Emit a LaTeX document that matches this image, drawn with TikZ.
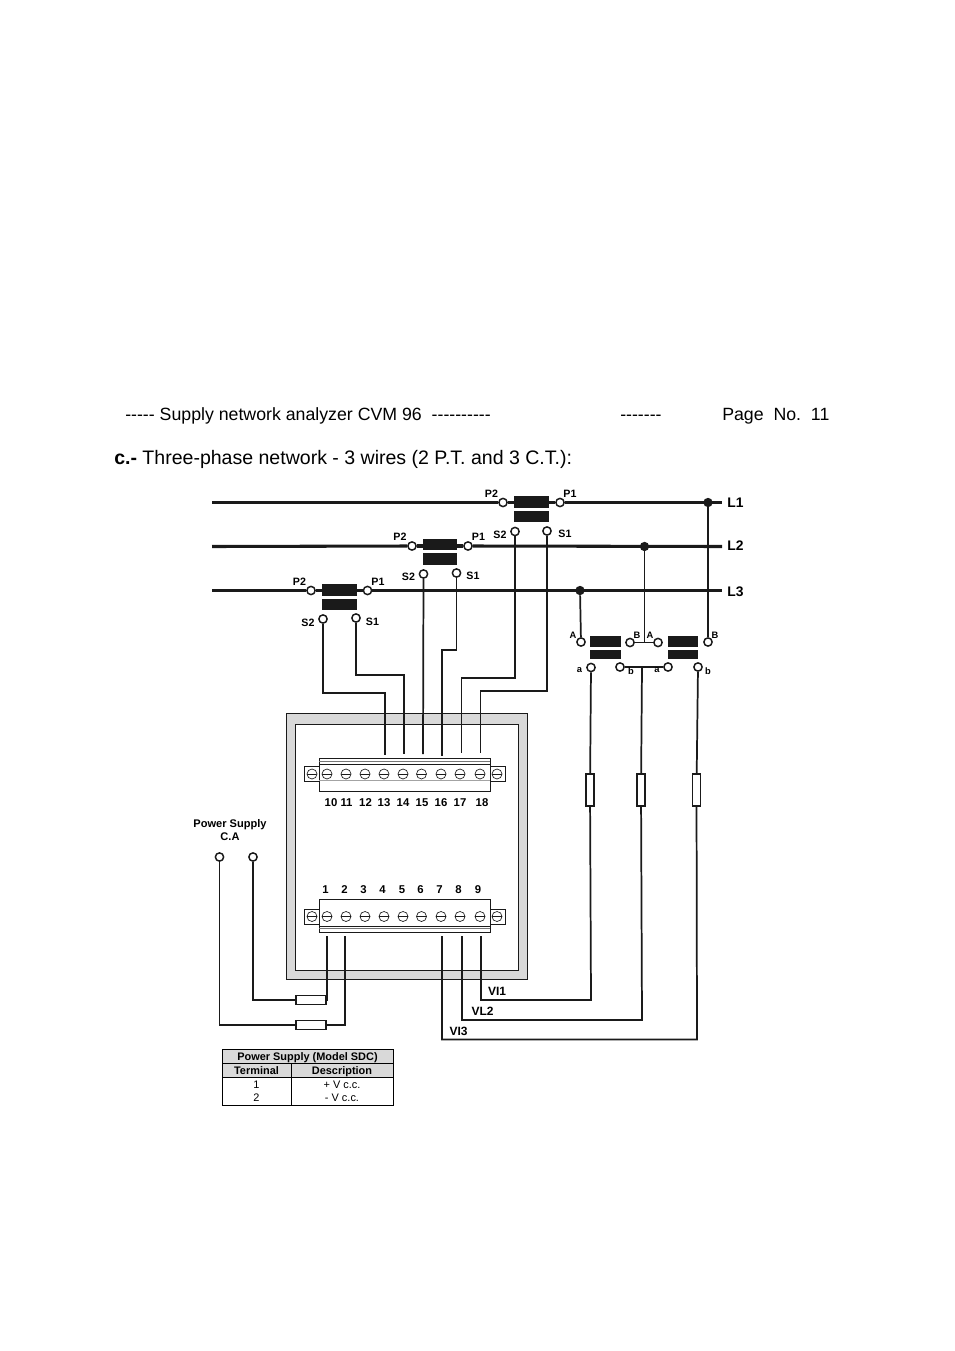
\documentclass[tikz,border=0pt]{standalone}
\usepackage{fontspec}
\setmainfont{Liberation Sans}
\definecolor{ink}{HTML}{1A1A1A}
\definecolor{panel}{HTML}{D9D9D9}
\tikzset{
  bus/.style={draw=ink,line width=2.3pt},
  wire/.style={draw=ink,line width=1.3pt},
  term/.style={circle,draw=ink,fill=white,line width=1.1pt,inner sep=0pt,minimum size=6.2pt},
  dotj/.style={circle,fill=ink,inner sep=0pt,minimum size=7pt},
  fusebox/.style={draw=ink,fill=white,line width=1pt,inner sep=0pt},
  screw/.style={circle,draw=ink,fill=white,line width=0.5pt,inner sep=0pt,minimum size=7.5pt,path picture={\draw[ink,line width=0.5pt](path picture bounding box.west)--(path picture bounding box.east);}},
  lab/.style={inner sep=0pt,font=\fontsize{8}{9}\selectfont\bfseries},
  tiny/.style={inner sep=0pt,font=\fontsize{7}{8}\selectfont\bfseries},
  num/.style={inner sep=0pt,font=\fontsize{8.5}{9}\selectfont\bfseries},
  vl/.style={inner sep=0pt,font=\fontsize{9}{10}\selectfont\bfseries},
  line/.style={inner sep=0pt,font=\fontsize{10.4}{11}\selectfont\bfseries},
  head/.style={inner sep=0pt,anchor=base west,font=\fontsize{13.3}{16}\selectfont},
  title/.style={inner sep=0pt,anchor=base west,font=\fontsize{14.65}{16}\selectfont},
  tabh/.style={inner sep=0pt,anchor=base,font=\fontsize{8.2}{9}\selectfont\bfseries},
  tabc/.style={inner sep=0pt,anchor=base,font=\fontsize{8.2}{9}\selectfont},
  strip/.style={draw=ink,line width=0.6pt,fill=white},
}
\begin{document}
\begin{tikzpicture}[x=0.75pt,y=-0.75pt]
\useasboundingbox (0,0) rectangle (954,1351);
% headings
\node[head] (h1) at (125,420) {-{}-{}-{}-{}- Supply network analyzer CVM 96\ \ -{}-{}-{}-{}-{}-{}-{}-{}-{}-};
\node[head] (h2) at (620,420) {-{}-{}-{}-{}-{}-{}-};
\node[head] (h3) at (722,420) {Page\ \ No.\ \ 11};
\node[title] (h4) at (114,464) {\textbf{c.-} Three-phase network - 3 wires (2 P.T. and 3 C.T.):};
% instrument panel
\fill[panel,draw=ink,line width=0.65pt] (286,713) rectangle (527,979);
\fill[white,draw=ink,line width=0.65pt] (295,724) rectangle (518,970);
% terminal strips
\draw[strip] (304,766.5) rectangle (319,781.5);
\draw[strip] (490,766.5) rectangle (505,781.5);
\draw[strip] (319,758) rectangle (490,791);
\draw[ink!60,line width=0.5pt] (319,761.5) -- (490,761.5);
\draw[ink,line width=0.6pt] (319,764) -- (490,764);
\draw[ink!40,line width=0.5pt] (319,780) -- (490,780);
\draw[strip] (304,909) rectangle (319,924);
\draw[strip] (490,909) rectangle (505,924);
\draw[strip] (319,899) rectangle (490,932);
\draw[ink!60,line width=0.5pt] (319,928.5) -- (490,928.5);
\draw[ink,line width=0.6pt] (319,926) -- (490,926);
\foreach \n/\x in {10/327,11/346,12/365,13/384,14/403,15/421.5,16/441,17/460,18/480,e1/312,e2/497}
  \node[screw] (s\n) at (\x,774) {};
\foreach \n/\x in {1/327,2/346,3/365,4/384,5/403,6/421.5,7/441,8/460,9/480,e3/312,e4/497}
  \node[screw] (s\n) at (\x,916.5) {};
\foreach \t/\x in {10/331,11/346.5,12/365.5,13/384,14/403,15/422,16/441,17/460,18/482}
  \node[num] (n\t) at (\x,802.5) {\t};
\foreach \t/\x in {1/325.5,2/344.5,3/363.5,4/382.5,5/402,6/420.5,7/439.5,8/458.5,9/478}
  \node[num] (n\t) at (\x,890) {\t};
% wire ends at the strips
\coordinate (w13) at (385,755);
\coordinate (w14) at (404,754);
\coordinate (w15) at (423,754);
\coordinate (w16) at (442,755.5);
\coordinate (w17) at (461.5,753);
\coordinate (w18) at (480.5,753);
\coordinate (w1) at (327,936);
\coordinate (w2) at (345,936);
\coordinate (w7) at (442,936);
\coordinate (w8) at (462,936);
\coordinate (w9) at (481,936);
% line ends
\coordinate (b1) at (212,502.5);
\coordinate (b2) at (212,546.5);
\coordinate (b3) at (212,590.5);
\coordinate (e1) at (722,502.5);
\coordinate (e2) at (722,546.5);
\coordinate (e3) at (722,590.5);
% transformers on the lines
\node[term] (p2a) at (503,502.5) {};
\node[term] (p1a) at (560,502.5) {};
\node[term] (p2b) at (412,546) {};
\node[term] (p1b) at (468,546) {};
\node[term] (p2c) at (311,590.5) {};
\node[term] (p1c) at (367.5,590.5) {};
\node[dotj] (j1) at (708,502.5) {};
\node[dotj] (j2) at (644.5,546.5) {};
\node[dotj] (j3) at (580,590.5) {};
\draw[bus] (b1) -- (p2a);
\draw[bus] (p2a) -- (p1a);
\draw[bus] (p1a) -- (e1);
\draw[bus] (b2) -- (p2b);
\draw[bus] (p2b) -- (p1b);
\draw[bus] (p1b) -- (e2);
\draw[bus] (b3) -- (p2c);
\draw[bus] (p2c) -- (p1c);
\draw[bus] (p1c) -- (e3);
\fill[ink] (514,496) rectangle (549,508);
\fill[ink] (514,511) rectangle (549,522);
\fill[ink] (423,539) rectangle (457,550);
\fill[ink] (423,553) rectangle (457,565);
\fill[ink] (322,584) rectangle (357,596);
\fill[ink] (322,599) rectangle (357,610);
\node[term] (s2a) at (515,531.5) {};
\node[term] (s1a) at (547,531) {};
\node[term] (s2b) at (423.5,574) {};
\node[term] (s1b) at (456.5,573) {};
\node[term] (s2c) at (323,619) {};
\node[term] (s1c) at (356,618) {};
% secondary wiring
\draw[wire] (s2c) |- (385,693) -- (w13);
\draw[wire] (s1c) |- (404,675) -- (w14);
\draw[wire] (s2b) -- (w15);
\draw[wire] (s1b) |- (442,650) -- (w16);
\draw[wire] (s2a) |- (461.5,678) -- (w17);
\draw[wire] (s1a) |- (480.5,691) -- (w18);
% right transformers
\fill[ink] (590,636) rectangle (621,647);
\fill[ink] (590,650) rectangle (621,659);
\fill[ink] (668,636) rectangle (698,647);
\fill[ink] (668,650) rectangle (698,659);
\node[term] (ca) at (581,642) {};
\node[term] (cb) at (630,642.5) {};
\node[term] (da) at (658,642.5) {};
\node[term] (db) at (708,642) {};
\node[term] (xa) at (591,667.5) {};
\node[term] (xb) at (620,667) {};
\node[term] (ya) at (668,667) {};
\node[term] (yb) at (698,667) {};
\coordinate (m1) at (644.5,642.5);
\coordinate (m2) at (642,667);
\draw[wire] (j3) -- (ca);
\draw[wire] (j2) -- (m1);
\draw[wire] (j1) -- (db);
\draw[wire] (cb) -- (da);
\draw[wire] (xb) -- (ya);
% fuses on the current side
\node[fusebox,minimum width=6pt,minimum height=24pt] (f1) at (590,790) {};
\node[fusebox,minimum width=6pt,minimum height=24pt] (f2) at (641,790) {};
\node[fusebox,minimum width=6pt,minimum height=24pt] (f3) at (696.5,790) {};
\draw[wire] (xa) -- (f1);
\draw[wire] (m2) -- (f2);
\draw[wire] (yb) -- (f3);
\coordinate (r1) at (591,1000);
\coordinate (r2) at (642,1020);
\coordinate (r3) at (697,1039.5);
\draw[wire] (f1) -- (r1) -- (481,1000) -- (w9);
\draw[wire] (f2) -- (r2) -- (462,1020) -- (w8);
\draw[wire] (f3) -- (r3) -- (442,1039.5) -- (w7);
% power supply
\node[lab,font=\fontsize{8.3}{9.8}\selectfont\bfseries,align=center] (ps) at (230,830) {Power Supply\\C.A};
\node[term] (pa) at (219.5,857) {};
\node[term] (pb) at (253,857) {};
\node[fusebox,minimum width=22.5pt,minimum height=6.3pt] (f4) at (311,1000) {};
\node[fusebox,minimum width=22.5pt,minimum height=6.3pt] (f5) at (311,1025) {};
\draw[wire] (pb) |- (f4);
\draw[wire] (pa) |- (f5);
\draw[wire] (f4) -| (w1);
\draw[wire] (f5) -| (w2);
% labels
\node[lab] at (491.5,494) {P2};
\node[lab] at (570,494) {P1};
\node[lab] at (500,535) {S2};
\node[lab] at (565,534) {S1};
\node[lab] at (400,537) {P2};
\node[lab] at (478.5,537) {P1};
\node[lab] at (408.5,577) {S2};
\node[lab] at (473,576) {S1};
\node[lab] at (299.5,582) {P2};
\node[lab] at (378,582) {P1};
\node[lab] at (308,622.5) {S2};
\node[lab] at (372.5,622) {S1};
\node[tiny] at (573,635) {A};
\node[tiny] at (637,635) {B};
\node[tiny] at (650,635.5) {A};
\node[tiny] at (715,635) {B};
\node[tiny] at (579.5,670) {a};
\node[tiny] at (631,671) {b};
\node[tiny] at (657,670) {a};
\node[tiny] at (708,671) {b};
\node[line] (l1) at (735.5,502.5) {L1};
\node[line] (l2) at (735.5,545.5) {L2};
\node[line] (l3) at (735.5,591.5) {L3};
\node[vl] at (497,991.5) {VI1};
\node[vl] at (482.5,1011) {VL2};
\node[vl] at (458.5,1031.5) {VI3};
% table
\fill[panel] (222.5,1049.5) rectangle (393,1077);
\draw[black,line width=0.7pt] (222.5,1049.5) rectangle (393,1105);
\draw[black,line width=0.7pt] (222.5,1063.5) -- (393,1063.5);
\draw[black,line width=0.7pt] (222.5,1077) -- (393,1077);
\draw[black,line width=0.7pt] (291,1063.5) -- (291,1105);
\node[tabh] at (307.5,1060) {Power Supply (Model SDC)};
\node[tabh] at (256.5,1074) {Terminal};
\node[tabh] at (342,1074) {Description};
\node[tabc] at (256.5,1088) {1};
\node[tabc] at (342,1088) {+ V c.c.};
\node[tabc] at (256.5,1101) {2};
\node[tabc] at (342,1101) {- V c.c.};
\end{tikzpicture}
\end{document}
